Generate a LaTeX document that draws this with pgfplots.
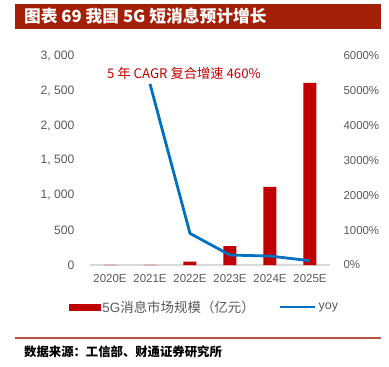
\documentclass[border=0pt]{standalone}
\usepackage{pgfplots}
\pgfplotsset{compat=1.18}
\usepackage{fontspec}
\setmainfont{Liberation Sans}
\newfontfamily\cjk{Noto Sans CJK SC}
\definecolor{barred}{RGB}{192,0,0}
\definecolor{lineblue}{RGB}{0,112,192}
\definecolor{titlebar}{RGB}{163,31,8}
\definecolor{footline}{RGB}{192,80,70}
\definecolor{ticklab}{RGB}{89,89,89}
\definecolor{axgray}{RGB}{217,217,217}
\begin{document}
\begin{tikzpicture}
\path[use as bounding box] (0bp,0bp) rectangle (389bp,-367bp);
\coordinate (A) at (90bp,-265bp);
% title bar
\fill[titlebar] (15bp,-4bp) rectangle (381bp,-29bp);
\node[anchor=west,text=white,inner sep=0pt] at (24bp,-16.5bp) {\cjk\bfseries\fontsize{16.8}{19}\selectfont 图表 69 我国 5G 短消息预计增长};
% footer
\draw[footline,line width=1.4bp] (15bp,-338bp) -- (381bp,-338bp);
\node[anchor=west,inner sep=0pt] at (24bp,-352bp) {\cjk\bfseries\fontsize{12.4}{14}\selectfont 数据来源：工信部、财通证券研究所};
\begin{axis}[
  at={(A)}, anchor=south west,
  scale only axis, width=240bp, height=209bp,
  xmin=-0.5, xmax=5.5, ymin=0, ymax=3000,
  axis y line*=left, axis x line*=bottom,
  y axis line style={draw=none},
  x axis line style={draw=axgray,line width=1.2bp},
  xtick={0,...,5},
  xticklabels={2020E,2021E,2022E,2023E,2024E,2025E},
  ytick={0,500,1000,1500,2000,2500,3000},
  yticklabels={0,500,{1, 000},{1, 500},{2, 000},{2, 500},{3, 000}},
  major tick length=0pt,
  tick label style={font=\fontsize{11.5}{13}\selectfont, text=ticklab},
  yticklabel style={xshift=-12bp, font=\fontsize{12.2}{14}\selectfont},
  xticklabel style={yshift=-6bp},
  /pgf/number format/assume math mode=true,
]
\addplot[ybar, bar width=13bp, fill=barred, draw=none] coordinates {
 (0,0.8) (1,2) (2,47) (3,270) (4,1120) (5,2615)
};
\end{axis}
\begin{axis}[
  at={(A)}, anchor=south west,
  scale only axis, width=240bp, height=209bp,
  xmin=-0.5, xmax=5.5, ymin=0, ymax=6000,
  axis y line*=right, axis x line=none,
  y axis line style={draw=none},
  xtick=\empty,
  ytick={0,1000,2000,3000,4000,5000,6000},
  yticklabels={0\%,1000\%,2000\%,3000\%,4000\%,5000\%,6000\%},
  major tick length=0pt,
  tick label style={font=\fontsize{11.5}{13}\selectfont, text=ticklab},
  yticklabel style={xshift=10bp},
  /pgf/number format/assume math mode=true,
  legend style={at={(0.477,-0.201)}, anchor=center, draw=none, fill=none,
    font=\fontsize{11.5}{13}\selectfont, text=ticklab,
    legend columns=2, /tikz/every even column/.append style={column sep=22bp}},
  legend cell align=left,
]
\addlegendimage{legend image code/.code={\fill[barred] (0bp,-3bp) rectangle (31bp,3bp);}}
\addlegendentry{\fontsize{13.5}{15}\selectfont 5G{\cjk 消息市场规模（亿元）}}
\addplot[lineblue, line width=2.8bp, line join=round, legend image code/.code={\draw[lineblue,line width=2.8bp] (0bp,0bp) -- (35bp,0bp);}] coordinates {
 (1,5200) (2,906) (3,286) (4,257) (5,123)
};
\addlegendentry{\fontsize{12.5}{14}\selectfont yoy}
\end{axis}
\node[anchor=west,inner sep=0pt,text=barred] at (107bp,-73bp) {\cjk\fontsize{13.3}{15}\selectfont 5 年 CAGR 复合增速 460\%};
\end{tikzpicture}
\end{document}
